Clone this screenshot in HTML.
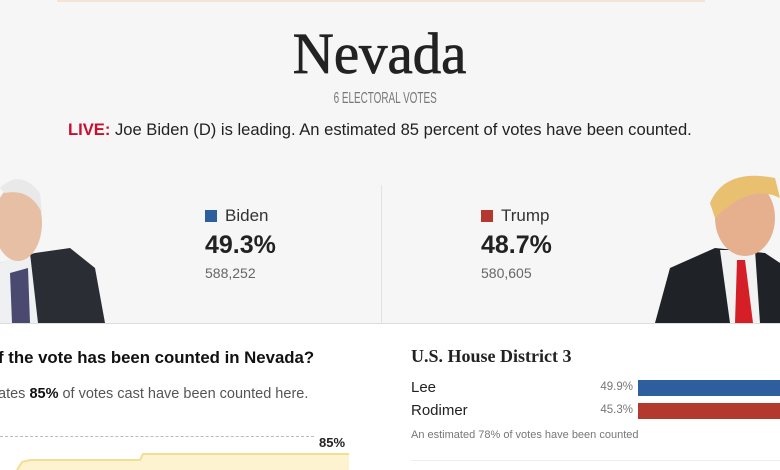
<!DOCTYPE html>
<html><head><meta charset="utf-8"><style>
body{margin:0;width:780px;height:470px;overflow:hidden;background:#fff;font-family:"Liberation Sans",sans-serif;position:relative}
.a{position:absolute;white-space:nowrap}
</style></head><body>
<div class="a" style="left:0;top:0;width:780px;height:323px;background:#f6f6f6"></div>
<div class="a" style="left:57px;top:0;width:648px;height:2px;background:#f3e4d8"></div>
<div class="a" style="left:0;top:323px;width:780px;height:1px;background:#ddd"></div>
<div class="a" style="left:381px;top:185px;width:1px;height:138px;background:#e2e2e2"></div>
<div class="a" style="left:-10px;top:20px;width:780px;text-align:center;font-family:'Liberation Serif',serif;font-size:58px;color:#222"><span style="display:inline-block;transform:scaleX(0.98);-webkit-text-stroke:0.8px #222">Nevada</span></div>
<div class="a" style="left:-5px;top:90px;width:780px;text-align:center;font-size:16px;color:#777"><span style="display:inline-block;transform:scaleX(0.62)">6 ELECTORAL VOTES</span></div>
<div class="a" style="left:-10px;top:120px;width:780px;text-align:center;font-size:17px;color:#222"><span style="display:inline-block;transform:scaleX(0.975)"><b style="color:#c8102e">LIVE:</b> Joe Biden (D) is leading. An estimated 85 percent of votes have been counted.</span></div>

<svg class="a" style="left:0;top:168px" width="110" height="155">
<path d="M0 95 L35 85 L70 80 L95 100 L105 155 L0 155Z" fill="#2a2d33"/>
<path d="M0 95 L30 85 L38 155 L0 155Z" fill="#eef0f2"/>
<path d="M10 105 L28 100 L30 155 L12 155Z" fill="#4a4a70"/>
<ellipse cx="18" cy="55" rx="24" ry="38" fill="#e7bfa4"/>
<path d="M0 20 Q20 0 40 25 L42 45 Q30 20 5 25Z" fill="#e9e9e9"/>
</svg>
<svg class="a" style="left:655px;top:168px" width="125" height="155">
<path d="M0 155 L15 100 L60 80 L110 85 L125 95 L125 155Z" fill="#1f2226"/>
<path d="M65 82 L100 82 L105 155 L75 155Z" fill="#f2f2f2"/>
<path d="M82 92 L90 92 L98 155 L80 155Z" fill="#d51f26"/>
<ellipse cx="90" cy="50" rx="30" ry="38" fill="#e6b08e"/>
<path d="M55 35 Q70 0 120 10 L125 30 Q95 15 60 50Z" fill="#e8c070"/>
</svg>

<div class="a" style="left:205px;top:210px;width:12px;height:12px;background:#2f5e9e"></div>
<div class="a" style="left:225px;top:206px;font-size:17px;color:#333">Biden</div>
<div class="a" style="left:205px;top:231px;font-size:25px;font-weight:bold;color:#222">49.3%</div>
<div class="a" style="left:205px;top:265px;font-size:14px;color:#666">588,252</div>
<div class="a" style="left:481px;top:210px;width:12px;height:12px;background:#b3392f"></div>
<div class="a" style="left:501px;top:206px;font-size:17px;color:#333">Trump</div>
<div class="a" style="left:481px;top:231px;font-size:25px;font-weight:bold;color:#222">48.7%</div>
<div class="a" style="left:481px;top:265px;font-size:14px;color:#666">580,605</div>

<div class="a" style="left:-2px;top:348px;font-size:16.8px;font-weight:bold;color:#111">f the vote has been counted in Nevada?</div>
<div class="a" style="left:-2px;top:386px;font-size:14.5px;color:#555">ates <b style="color:#111">85%</b> of votes cast have been counted here.</div>
<div class="a" style="left:0;top:436px;width:314px;border-top:1px dashed #bbb"></div>
<div class="a" style="left:319px;top:435px;font-size:13px;font-weight:bold;color:#222">85%</div>
<svg class="a" style="left:0;top:448px" width="350" height="22">
<path d="M17 22 L22 14 L30 12 L140 12 L143 6 L349 6 L349 22Z" fill="#fdf3d0"/>
<path d="M17 22 L22 14 L30 12 L140 12 L143 6 L349 6" fill="none" stroke="#f3df92" stroke-width="2"/>
</svg>

<div class="a" style="left:411px;top:346px;font-family:'Liberation Serif',serif;font-size:18px;font-weight:bold;color:#222">U.S. House District 3</div>
<div class="a" style="left:411px;top:379px;font-size:15px;color:#222">Lee</div>
<div class="a" style="left:560px;top:381px;width:73px;text-align:right;font-size:11.5px;color:#777">49.9%</div>
<div class="a" style="left:638px;top:380px;width:142px;height:16px;background:#2f5e9e"></div>
<div class="a" style="left:411px;top:402px;font-size:15px;color:#222">Rodimer</div>
<div class="a" style="left:560px;top:404px;width:73px;text-align:right;font-size:11.5px;color:#777">45.3%</div>
<div class="a" style="left:638px;top:403px;width:142px;height:16px;background:#b3392f"></div>
<div class="a" style="left:411px;top:429px;font-size:11px;color:#777">An estimated 78% of votes have been counted</div>
<div class="a" style="left:411px;top:460px;width:369px;height:1px;background:#eee"></div>
</body></html>
